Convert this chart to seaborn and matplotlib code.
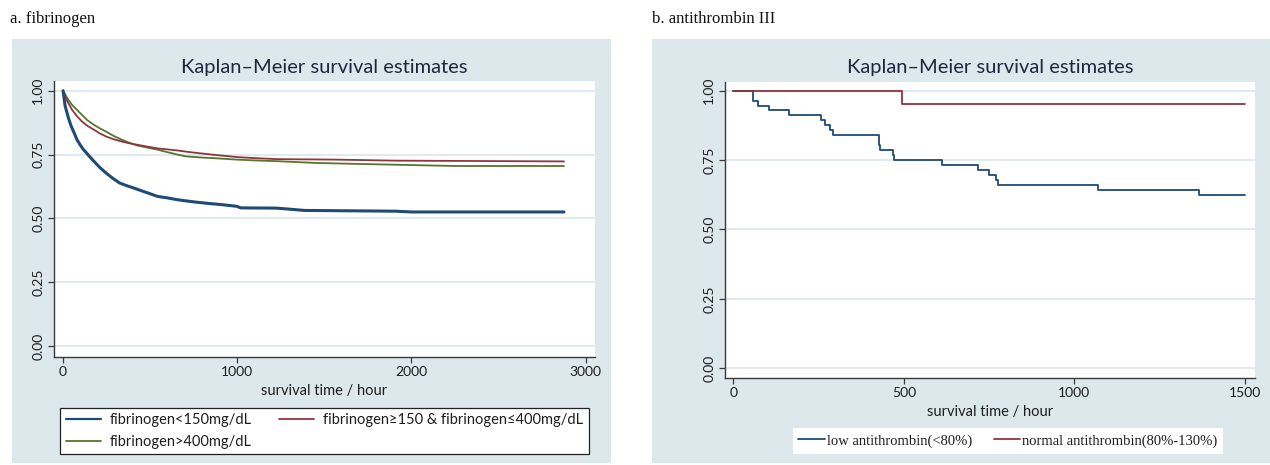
import numpy as np
import pandas as pd
import matplotlib
matplotlib.use("Agg")
import matplotlib.pyplot as plt
from matplotlib.patches import Rectangle
from matplotlib.lines import Line2D
import seaborn as sns

# ---------------- data ----------------
# panel a: fibrinogen (Kaplan-Meier estimates)
fib_low_t = [0, 12, 30, 46, 64, 80, 98, 115, 132, 155, 178, 210, 246, 285, 326, 365, 405, 450, 497, 542, 600, 656, 710, 770, 840, 907, 998, 1020, 1225, 1300, 1385, 1909, 2000, 2876]
fib_low_s = [1.0, 0.94, 0.895, 0.862, 0.834, 0.808, 0.788, 0.771, 0.758, 0.740, 0.723, 0.700, 0.678, 0.657, 0.638, 0.628, 0.619, 0.608, 0.597, 0.586, 0.580, 0.573, 0.568, 0.563, 0.558, 0.554, 0.547, 0.541, 0.540, 0.536, 0.531, 0.528, 0.525, 0.525]

fib_norm_t = [0, 25, 52, 80, 109, 140, 178, 210, 246, 290, 337, 380, 428, 485, 542, 600, 656, 710, 770, 880, 998, 1100, 1225, 1400, 1567, 1909, 2876]
fib_norm_s = [1.0, 0.958, 0.925, 0.900, 0.879, 0.862, 0.847, 0.833, 0.821, 0.810, 0.801, 0.794, 0.788, 0.781, 0.774, 0.770, 0.766, 0.761, 0.756, 0.748, 0.740, 0.736, 0.732, 0.731, 0.730, 0.726, 0.723]

fib_high_t = [0, 25, 52, 80, 109, 140, 178, 210, 246, 290, 337, 380, 428, 485, 542, 600, 656, 702, 800, 884, 998, 1100, 1225, 1453, 1700, 1909, 2255, 2876]
fib_high_s = [1.0, 0.970, 0.944, 0.925, 0.905, 0.884, 0.866, 0.853, 0.840, 0.823, 0.808, 0.796, 0.785, 0.777, 0.769, 0.759, 0.750, 0.743, 0.738, 0.735, 0.730, 0.727, 0.724, 0.717, 0.713, 0.710, 0.705, 0.705]

fib_labels = ["fibrinogen<150mg/dL",
              "fibrinogen\u2265150 & fibrinogen\u2264400mg/dL",
              "fibrinogen>400mg/dL"]

# panel b: antithrombin III (step functions)
at_low_t = [0, 57, 71, 105, 164, 256, 270, 284, 292, 426, 430, 468, 472, 611, 718, 749, 771, 776, 1068, 1364, 1500]
at_low_s = [1.0, 0.964, 0.946, 0.929, 0.911, 0.893, 0.875, 0.857, 0.839, 0.804, 0.786, 0.768, 0.750, 0.732, 0.714, 0.696, 0.678, 0.661, 0.642, 0.624, 0.624]
at_norm_t = [0, 495, 1500]
at_norm_s = [1.0, 0.951, 0.951]
at_labels = ["low antithrombin(<80%)", "normal antithrombin(80%-130%)"]

xticks_a = [0, 1000, 2000, 3000]
xticks_b = [0, 500, 1000, 1500]
yticks = [0.0, 0.25, 0.5, 0.75, 1.0]

# ---------------- style ----------------
sns.set_theme(style="white")
plt.rcParams["font.family"] = ["Lato", "DejaVu Sans"]

NAVY = "#1f4a74"
MAROON = "#90353b"
GREEN = "#55752f"
BG = "#dde8ec"
GRID = "#dde8ee"
TXT = "#1e1e1e"

W, H = 1270, 465
fig = plt.figure(figsize=(12.7, 4.65), dpi=100)
fig.patch.set_facecolor("white")


def fx(px):
    return px / W


def fy(py):
    return 1 - py / H


# panel backgrounds
fig.patches.append(Rectangle((fx(12), fy(463)), fx(611) - fx(12), fy(39) - fy(463),
                             transform=fig.transFigure, facecolor=BG, edgecolor="none", zorder=-10))
fig.patches.append(Rectangle((fx(652), fy(463)), fx(1270) - fx(652), fy(39) - fy(463),
                             transform=fig.transFigure, facecolor=BG, edgecolor="none", zorder=-10))

# section headers
fig.text(fx(10), fy(19), "a. fibrinogen", family="Liberation Serif", fontsize=12,
         va="center", ha="left", color="#111111")
fig.text(fx(652), fy(19), "b. antithrombin III", family="Liberation Serif", fontsize=12,
         va="center", ha="left", color="#111111")

axA = fig.add_axes([fx(54), fy(356.7), fx(595) - fx(54), fy(81) - fy(356.7)])
axB = fig.add_axes([fx(725), fy(377.7), fx(1255) - fx(725), fy(81.7) - fy(377.7)])


def style_axes(ax, xticks, xlim, ylim):
    ax.set_facecolor("white")
    ax.set_xlim(*xlim)
    ax.set_ylim(*ylim)
    ax.set_xticks(xticks)
    ax.set_yticks(yticks)
    ax.set_yticklabels([f"{v:.2f}" for v in yticks], rotation=90, va="center")
    ax.set_xticklabels([str(v) for v in xticks])
    for s in ["top", "right"]:
        ax.spines[s].set_visible(False)
    for s in ["left", "bottom"]:
        ax.spines[s].set_color("#3a3a3a")
        ax.spines[s].set_linewidth(1.0)
    ax.tick_params(axis="both", direction="out", length=4, width=0.9, color="#3a3a3a",
                   labelsize=10, labelcolor=TXT, pad=3, left=True, bottom=True)
    ax.yaxis.grid(True, color=GRID, linewidth=1.3)
    ax.xaxis.grid(False)
    ax.set_axisbelow(True)
    ax.set_xlabel("survival time / hour", fontsize=10.5, color=TXT, labelpad=4)
    ax.set_ylabel("")
    ax.set_title("Kaplan\u2013Meier survival estimates", fontsize=14.5, color="#1c2740", pad=6)


# ---------- panel a ----------
dfA = pd.concat([
    pd.DataFrame({"t": fib_low_t, "s": fib_low_s, "g": fib_labels[0]}),
    pd.DataFrame({"t": fib_norm_t, "s": fib_norm_s, "g": fib_labels[1]}),
    pd.DataFrame({"t": fib_high_t, "s": fib_high_s, "g": fib_labels[2]}),
])
sns.lineplot(data=dfA[dfA.g == fib_labels[2]], x="t", y="s", color=GREEN, linewidth=1.3,
             ax=axA, legend=False, sort=False)
sns.lineplot(data=dfA[dfA.g == fib_labels[1]], x="t", y="s", color=MAROON, linewidth=1.3,
             ax=axA, legend=False, sort=False)
sns.lineplot(data=dfA[dfA.g == fib_labels[0]], x="t", y="s", color=NAVY, linewidth=2.2,
             ax=axA, legend=False, sort=False)
style_axes(axA, xticks_a, (-52, 3054), (-0.042, 1.038))

hA = [Line2D([], [], color=NAVY, lw=1.6), Line2D([], [], color=GREEN, lw=1.3),
      Line2D([], [], color=MAROON, lw=1.3)]
lA = [fib_labels[0], fib_labels[2], fib_labels[1]]
legA = fig.legend(hA, lA, ncol=2, loc="center", mode="expand",
                  bbox_to_anchor=(fx(60), fy(455), fx(589) - fx(60), fy(407) - fy(455)),
                  bbox_transform=fig.transFigure, fontsize=10.5, frameon=True, fancybox=False,
                  framealpha=1, handlelength=2.4, handletextpad=0.6, borderpad=0.4,
                  labelspacing=0.5, borderaxespad=0)
legA.get_frame().set_edgecolor("#222222")
legA.get_frame().set_linewidth(0.9)
legA.get_frame().set_facecolor("white")
for t in legA.get_texts():
    t.set_color(TXT)

# ---------- panel b ----------
dfB = pd.concat([
    pd.DataFrame({"t": at_low_t, "s": at_low_s, "g": at_labels[0]}),
    pd.DataFrame({"t": at_norm_t, "s": at_norm_s, "g": at_labels[1]}),
])
sns.lineplot(data=dfB, x="t", y="s", hue="g", palette={at_labels[0]: NAVY, at_labels[1]: MAROON},
             drawstyle="steps-post", linewidth=1.3, ax=axB, legend=False, sort=False)
style_axes(axB, xticks_b, (-24.3, 1529.5), (-0.034, 1.032))

hB = [Line2D([], [], color=NAVY, lw=1.3), Line2D([], [], color=MAROON, lw=1.3)]
legB = fig.legend(hB, at_labels, ncol=2, loc="center",
                  bbox_to_anchor=(fx(1008), fy(441)), bbox_transform=fig.transFigure,
                  prop={"family": "Liberation Serif", "size": 10.5}, frameon=True, fancybox=False,
                  framealpha=1, handlelength=1.8, handletextpad=0.15, columnspacing=1.5,
                  borderpad=0.4, borderaxespad=0)
legB.get_frame().set_edgecolor("white")
legB.get_frame().set_facecolor("white")
legB.get_frame().set_linewidth(0)
for t in legB.get_texts():
    t.set_color(TXT)

fig.savefig("out.png", dpi=100, facecolor="white")
